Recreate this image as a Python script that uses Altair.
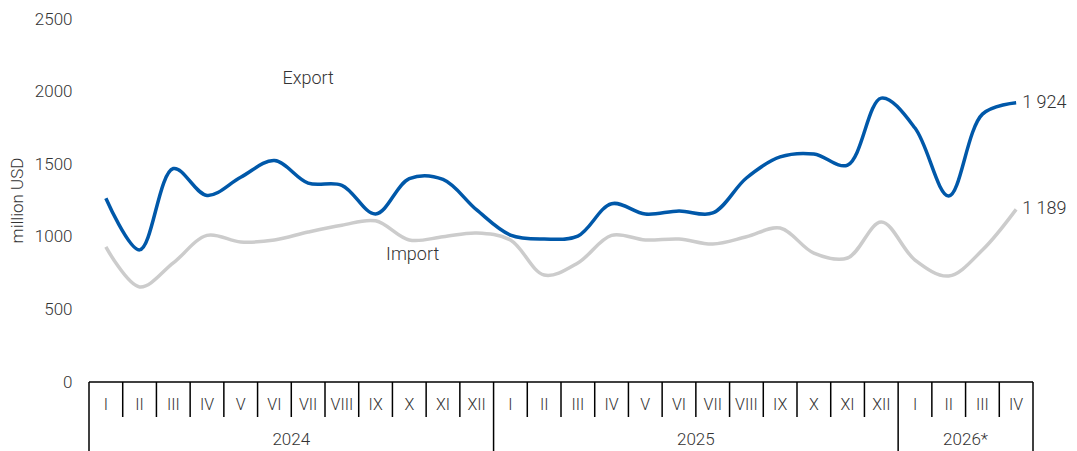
import altair as alt
import pandas as pd

months = ["I", "II", "III", "IV", "V", "VI", "VII", "VIII", "IX", "X", "XI", "XII",
          "I", "II", "III", "IV", "V", "VI", "VII", "VIII", "IX", "X", "XI", "XII",
          "I", "II", "III", "IV"]
year_names = ["2024", "2025", "2026*"]
year_lengths = [12, 12, 4]

export_vals = [1265, 910, 1470, 1285, 1410, 1525, 1370, 1355, 1157, 1400, 1395, 1185,
               1012, 985, 1005, 1228, 1157, 1178, 1164, 1405, 1550, 1570, 1494, 1955,
               1749, 1281, 1845, 1924]
import_vals = [930, 655, 820, 1010, 964, 978, 1033, 1080, 1110, 978, 1000, 1026,
               978, 737, 820, 1010, 978, 985, 950, 1000, 1060, 888, 854, 1102,
               840, 730, 909, 1189]

series_names = ["Export", "Import"]
series_colors = ["#0058A9", "#CCCCCC"]
end_labels = ["1 924", "1 189"]
series_label_pos = [(6, 2087), (9.1, 875)]

FONT = "Roboto"
TXT = "#333333"
W = 300

n = len(months)
idx = list(range(n))

line_df = pd.DataFrame({
    "i": idx * 2,
    "value": export_vals + import_vals,
    "series": [series_names[0]] * n + [series_names[1]] * n,
})

xs = alt.Scale(domain=[-0.5, n - 0.5], nice=False, zero=False)
ys = alt.Scale(domain=[0, 2500], nice=False)

base_x = alt.X("i:Q", scale=xs, axis=None)

lines = alt.Chart(line_df).mark_line(interpolate="catmull-rom", strokeWidth=3.5).encode(
    x=base_x,
    y=alt.Y("value:Q", scale=ys,
            axis=alt.Axis(values=[0, 500, 1000, 1500, 2000, 2500], format="d", grid=False,
                          ticks=False, domain=False, labelFont=FONT, labelFontSize=17,
                          labelFontWeight=W, labelColor=TXT,
                          labelPadding=17, title="million USD", titleFont=FONT,
                          titleFontSize=17, titleFontWeight=W, titleColor=TXT,
                          titleAngle=-90, titleX=-72, titleY=181, titleAlign="center",
                          titleBaseline="middle")),
    color=alt.Color("series:N", scale=alt.Scale(domain=series_names, range=series_colors),
                    legend=None),
    detail="series:N",
)

end_df = pd.DataFrame({
    "i": [n - 1, n - 1],
    "value": [export_vals[-1], import_vals[-1]],
    "label": end_labels,
})
end_text = alt.Chart(end_df).mark_text(align="left", baseline="middle", dx=6,
                                       font=FONT, fontSize=18, fontWeight=W,
                                       color=TXT).encode(
    x=alt.X("i:Q", scale=xs, axis=None), y=alt.Y("value:Q", scale=ys), text="label:N")

name_df = pd.DataFrame({
    "i": [p[0] for p in series_label_pos],
    "value": [p[1] for p in series_label_pos],
    "label": series_names,
})
name_text = alt.Chart(name_df).mark_text(align="center", baseline="middle",
                                         font=FONT, fontSize=18, fontWeight=W,
                                         color=TXT).encode(
    x=alt.X("i:Q", scale=xs, axis=None), y=alt.Y("value:Q", scale=ys), text="label:N")

# axis line
axis_df = pd.DataFrame({"a": [-0.5], "b": [n - 0.5], "v": [0]})
axis_line = alt.Chart(axis_df).mark_rule(color="#000000", strokeWidth=1.5).encode(
    x=alt.X("a:Q", scale=xs, axis=None), x2="b:Q", y=alt.Y("v:Q", scale=ys))

# month separators & year separators
year_bounds = [0]
for L in year_lengths:
    year_bounds.append(year_bounds[-1] + L)
month_bounds = [b for b in range(n + 1) if b not in year_bounds]

msep_df = pd.DataFrame({"b": [b - 0.5 for b in month_bounds]})
msep = alt.Chart(msep_df).mark_rule(color="#000000", strokeWidth=1.5).encode(
    x=alt.X("b:Q", scale=xs, axis=None), y=alt.value(363), y2=alt.value(398))

ysep_df = pd.DataFrame({"b": [b - 0.5 for b in year_bounds]})
ysep = alt.Chart(ysep_df).mark_rule(color="#000000", strokeWidth=1.5).encode(
    x=alt.X("b:Q", scale=xs, axis=None), y=alt.value(363), y2=alt.value(440))

mlab_df = pd.DataFrame({"i": idx, "m": months})
mlab = alt.Chart(mlab_df).mark_text(font=FONT, fontSize=16, fontWeight=W, color=TXT,
                                    baseline="middle").encode(
    x=alt.X("i:Q", scale=xs, axis=None), y=alt.value(386), text="m:N")

ylab_df = pd.DataFrame({
    "c": [(year_bounds[k] + year_bounds[k + 1] - 1) / 2 for k in range(len(year_names))],
    "y": year_names,
})
ylab = alt.Chart(ylab_df).mark_text(font=FONT, fontSize=17, fontWeight=W, color=TXT,
                                    baseline="middle").encode(
    x=alt.X("c:Q", scale=xs, axis=None), y=alt.value(421), text="y:N")

chart = alt.layer(lines, end_text, name_text, axis_line, msep, ysep, mlab, ylab).properties(
    width=944, height=363,
    background="white",
    autosize=alt.AutoSizeParams(type="none"),
    padding={"left": 89, "top": 19, "right": 44, "bottom": 69},
).configure_view(strokeWidth=0, strokeOpacity=0)

chart.save("out.html", embed_options={"renderer": "svg", "actions": False})
